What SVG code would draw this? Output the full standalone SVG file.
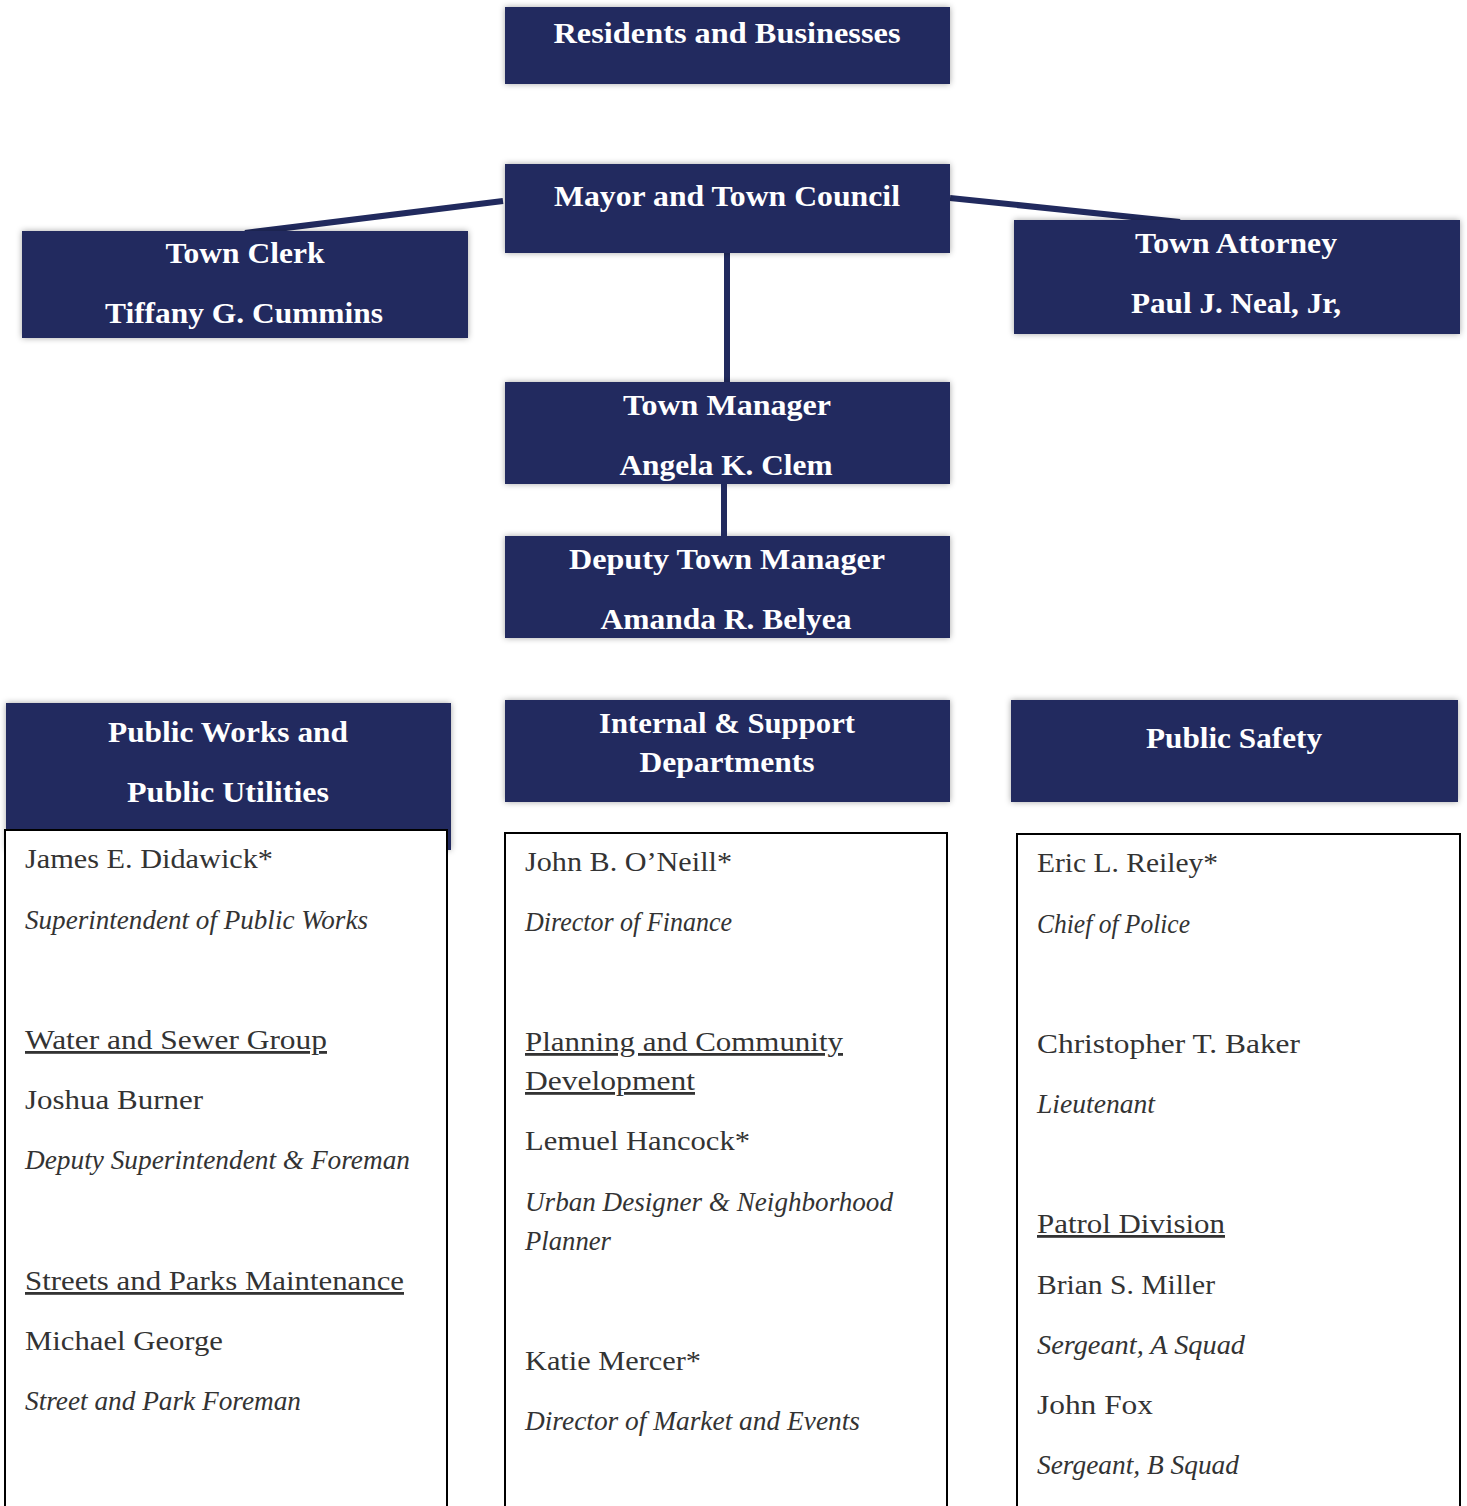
<svg xmlns="http://www.w3.org/2000/svg" width="1467" height="1506" viewBox="0 0 1467 1506">
<defs>
<filter id="sh" x="-5%" y="-20%" width="110%" height="140%">
<feDropShadow dx="0" dy="0" stdDeviation="3" flood-color="#000" flood-opacity="0.35"/>
</filter>
<style>
.box{fill:#212a5e;filter:url(#sh);}
.hd{font-family:"Liberation Serif",serif;font-weight:bold;font-size:29px;fill:#fff;text-anchor:middle;}
.panel{fill:#fff;stroke:#000;stroke-width:2;}
.tx{font-family:"Liberation Serif",serif;font-size:28px;fill:#333;}
.it{font-style:italic;}
.ul{text-decoration:underline;}
.con{stroke:#212a5e;stroke-width:6;fill:none;}
</style>
</defs>
<rect width="1467" height="1506" fill="#fff"/>

<g id="connectors">
<line class="con" x1="503" y1="201" x2="245" y2="233"/>
<line class="con" x1="950" y1="198" x2="1180" y2="222"/>
<line class="con" x1="727" y1="250" x2="727" y2="384"/>
</g>

<g id="residents">
<rect class="box" x="505" y="7" width="445" height="77"/>
<text class="hd" x="727" y="43" textLength="347" lengthAdjust="spacingAndGlyphs">Residents and Businesses</text>
</g>

<g id="mayor">
<rect class="box" x="505" y="164" width="445" height="89"/>
<text class="hd" x="727" y="206" textLength="346" lengthAdjust="spacingAndGlyphs">Mayor and Town Council</text>
</g>

<g id="clerk">
<rect class="box" x="22" y="231" width="446" height="107"/>
<text class="hd" x="245" y="263" textLength="159" lengthAdjust="spacingAndGlyphs">Town Clerk</text>
<text class="hd" x="244" y="323" textLength="278" lengthAdjust="spacingAndGlyphs">Tiffany G. Cummins</text>
</g>

<g id="attorney">
<rect class="box" x="1014" y="220" width="446" height="114"/>
<text class="hd" x="1236" y="253" textLength="202" lengthAdjust="spacingAndGlyphs">Town Attorney</text>
<text class="hd" x="1236" y="313" textLength="210" lengthAdjust="spacingAndGlyphs">Paul J. Neal, Jr,</text>
</g>

<g id="manager">
<rect class="box" x="505" y="382" width="445" height="102"/>
<text class="hd" x="727" y="415" textLength="208" lengthAdjust="spacingAndGlyphs">Town Manager</text>
<text class="hd" x="726" y="475" textLength="213" lengthAdjust="spacingAndGlyphs">Angela K. Clem</text>
</g>

<g id="deputy">
<rect class="box" x="505" y="536" width="445" height="102"/>
<text class="hd" x="727" y="569" textLength="316" lengthAdjust="spacingAndGlyphs">Deputy Town Manager</text>
<text class="hd" x="726" y="629" textLength="251" lengthAdjust="spacingAndGlyphs">Amanda R. Belyea</text>
</g>

<g id="connector-deputy">
<line class="con" x1="724" y1="481" x2="724" y2="538"/>
</g>

<g id="public-works">
<rect class="box" x="6" y="703" width="445" height="147"/>
<text class="hd" x="228" y="742" textLength="240" lengthAdjust="spacingAndGlyphs">Public Works and</text>
<text class="hd" x="228" y="802" textLength="202" lengthAdjust="spacingAndGlyphs">Public Utilities</text>
<rect class="panel" x="5" y="830" width="442" height="690"/>
<text class="tx" x="25" y="868" textLength="248" lengthAdjust="spacingAndGlyphs">James E. Didawick*</text>
<text class="tx it" x="25" y="929" textLength="343" lengthAdjust="spacingAndGlyphs">Superintendent of Public Works</text>
<text class="tx ul" x="25" y="1049" textLength="302" lengthAdjust="spacingAndGlyphs">Water and Sewer Group</text>
<text class="tx" x="25" y="1109" textLength="178" lengthAdjust="spacingAndGlyphs">Joshua Burner</text>
<text class="tx it" x="25" y="1169" textLength="385" lengthAdjust="spacingAndGlyphs">Deputy Superintendent &amp; Foreman</text>
<text class="tx ul" x="25" y="1290" textLength="379" lengthAdjust="spacingAndGlyphs">Streets and Parks Maintenance</text>
<text class="tx" x="25" y="1350" textLength="198" lengthAdjust="spacingAndGlyphs">Michael George</text>
<text class="tx it" x="25" y="1410" textLength="276" lengthAdjust="spacingAndGlyphs">Street and Park Foreman</text>
</g>

<g id="internal-support">
<rect class="box" x="505" y="700" width="445" height="102"/>
<text class="hd" x="727" y="733" textLength="256" lengthAdjust="spacingAndGlyphs">Internal &amp; Support</text>
<text class="hd" x="727" y="772" textLength="175" lengthAdjust="spacingAndGlyphs">Departments</text>
<rect class="panel" x="505" y="833" width="442" height="690"/>
<text class="tx" x="525" y="871" textLength="207" lengthAdjust="spacingAndGlyphs">John B. O’Neill*</text>
<text class="tx it" x="525" y="931" textLength="207" lengthAdjust="spacingAndGlyphs">Director of Finance</text>
<text class="tx ul" x="525" y="1051" textLength="318" lengthAdjust="spacingAndGlyphs">Planning and Community</text>
<text class="tx ul" x="525" y="1090" textLength="170" lengthAdjust="spacingAndGlyphs">Development</text>
<text class="tx" x="525" y="1150" textLength="225" lengthAdjust="spacingAndGlyphs">Lemuel Hancock*</text>
<text class="tx it" x="525" y="1211" textLength="368" lengthAdjust="spacingAndGlyphs">Urban Designer &amp; Neighborhood</text>
<text class="tx it" x="525" y="1250" textLength="86" lengthAdjust="spacingAndGlyphs">Planner</text>
<text class="tx" x="525" y="1370" textLength="176" lengthAdjust="spacingAndGlyphs">Katie Mercer*</text>
<text class="tx it" x="525" y="1430" textLength="335" lengthAdjust="spacingAndGlyphs">Director of Market and Events</text>
</g>

<g id="public-safety">
<rect class="box" x="1011" y="700" width="447" height="102"/>
<text class="hd" x="1234" y="748" textLength="176" lengthAdjust="spacingAndGlyphs">Public Safety</text>
<rect class="panel" x="1017" y="834" width="443" height="690"/>
<text class="tx" x="1037" y="872" textLength="181" lengthAdjust="spacingAndGlyphs">Eric L. Reiley*</text>
<text class="tx it" x="1037" y="933" textLength="153" lengthAdjust="spacingAndGlyphs">Chief of Police</text>
<text class="tx" x="1037" y="1053" textLength="263" lengthAdjust="spacingAndGlyphs">Christopher T. Baker</text>
<text class="tx it" x="1037" y="1113" textLength="118" lengthAdjust="spacingAndGlyphs">Lieutenant</text>
<text class="tx ul" x="1037" y="1233" textLength="188" lengthAdjust="spacingAndGlyphs">Patrol Division</text>
<text class="tx" x="1037" y="1294" textLength="178" lengthAdjust="spacingAndGlyphs">Brian S. Miller</text>
<text class="tx it" x="1037" y="1354" textLength="208" lengthAdjust="spacingAndGlyphs">Sergeant, A Squad</text>
<text class="tx" x="1037" y="1414" textLength="116" lengthAdjust="spacingAndGlyphs">John Fox</text>
<text class="tx it" x="1037" y="1474" textLength="202" lengthAdjust="spacingAndGlyphs">Sergeant, B Squad</text>
</g>
</svg>
